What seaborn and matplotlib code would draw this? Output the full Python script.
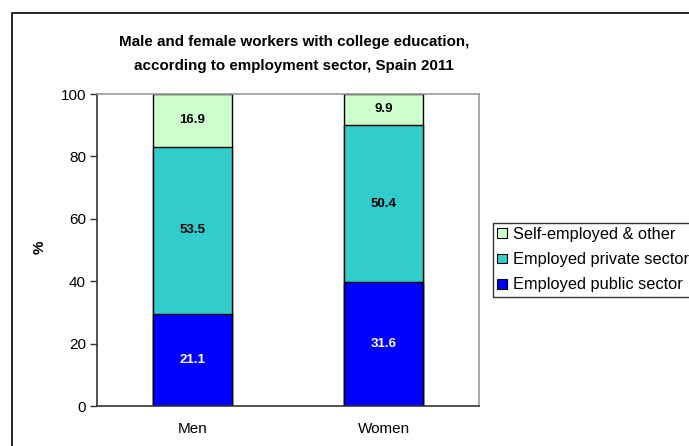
import pandas as pd
import seaborn as sns
import matplotlib.pyplot as plt
from matplotlib.patches import Patch, Rectangle

# data
groups = ['Men', 'Women']
public_height = [29.6, 39.7]      # bar height as drawn
public_label = ['21.1', '31.6']   # value printed in the bar
private = [53.5, 50.4]
self_emp = [16.9, 9.9]

sectors = ['Self-employed & other', 'Employed private sector', 'Employed public sector']
colors = ['#ccffcc', '#33cccc', '#0000ff']
title_lines = ['Male and female workers with college education,',
               'according to employment sector, Spain 2011']

sns.set_style('white')
plt.rcParams['font.family'] = ['Liberation Sans', 'DejaVu Sans']
plt.rcParams['text.color'] = 'black'
plt.rcParams['axes.labelcolor'] = 'black'
plt.rcParams['xtick.color'] = 'black'
plt.rcParams['ytick.color'] = 'black'

fig = plt.figure(figsize=(6.89, 4.46), dpi=100)
ax = fig.add_axes([97 / 689, 40 / 446, 382 / 689, 312 / 446])

# cumulative tops, drawn back to front
df = pd.DataFrame({'group': groups,
                   'public': public_height,
                   'private': private,
                   'self': self_emp})
df['top_public'] = df['public']
df['top_private'] = df['public'] + df['private']
df['top_self'] = df['top_private'] + df['self']

for col, c in zip(['top_self', 'top_private', 'top_public'], colors):
    sns.barplot(data=df, x='group', y=col, color=c, width=0.41,
                edgecolor='black', linewidth=1, saturation=1, ax=ax)

# segment labels
for i in range(len(groups)):
    ax.text(i, df['public'][i] / 2, public_label[i], ha='center', va='center',
            color='white', fontsize=9.5, fontweight='bold')
    ax.text(i, df['top_public'][i] + df['private'][i] / 2, f"{private[i]:.1f}",
            ha='center', va='center', fontsize=9.5, fontweight='bold')
    ax.text(i, df['top_private'][i] + df['self'][i] / 2, f"{self_emp[i]:.1f}",
            ha='center', va='center', fontsize=9.5, fontweight='bold')

ax.set_xlim(-0.5, 1.5)
ax.set_ylim(0, 100)
ax.set_yticks([0, 20, 40, 60, 80, 100])
ax.tick_params(axis='y', left=True, length=5, width=1, color='#333333', labelsize=11, pad=3)
ax.tick_params(axis='x', bottom=False, labelsize=11, pad=8)
ax.set_xlabel('')
ax.set_ylabel('%', fontsize=11, fontweight='bold')
ax.yaxis.set_label_coords(-0.133, 0.51)
for s in ['left', 'bottom']:
    ax.spines[s].set_color('#333333')
    ax.spines[s].set_linewidth(1.2)
for s in ['top', 'right']:
    ax.spines[s].set_visible(True)
    ax.spines[s].set_color('#999999')
    ax.spines[s].set_linewidth(1.2)

# title, one line at a time
for line, base in zip(title_lines, [46, 70]):
    fig.text(294 / 689, 1 - base / 446, line, ha='center', va='baseline',
             fontsize=10.9, fontweight='bold')

handles = [Patch(facecolor=c, edgecolor='black', linewidth=0.8) for c in colors]
leg = fig.legend(handles, sectors, loc='upper left', bbox_to_anchor=(493 / 689, 1 - 223 / 446),
                 frameon=True, fancybox=False, fontsize=11.8, handlelength=0.6, handleheight=0.55,
                 handletextpad=0.4, borderpad=0.25, labelspacing=0.62, borderaxespad=0)
leg.get_frame().set_edgecolor('black')
leg.get_frame().set_linewidth(1)

# outer chart frame
fig.patches.append(Rectangle((12 / 689, -0.1), 1.1, 1 - 13 / 446 + 0.1, transform=fig.transFigure,
                             fill=False, edgecolor='black', linewidth=1.2))

fig.savefig('out.png', dpi=100)
